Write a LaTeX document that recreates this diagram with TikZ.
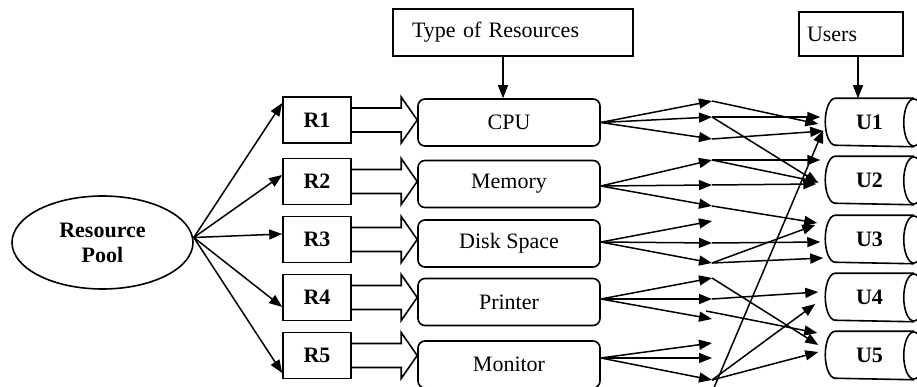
\documentclass[tikz,border=0pt]{standalone}
\usepackage{fontspec}
\setmainfont{Liberation Serif}
\usetikzlibrary{arrows.meta,shapes.geometric,calc}

% hollow block arrow from a resource box to its resource type box
\newcommand\blockarrow[2]{%
  \draw[blk] ($(#1.east)+(0,-12)$) -- ($(#2.west |- #1.east)+(-16,-12)$)
    -- ($(#2.west |- #1.east)+(-16,-23)$) -- (#2.west |- #1.east)
    -- ($(#2.west |- #1.east)+(-16,23)$) -- ($(#2.west |- #1.east)+(-16,12)$)
    -- ($(#1.east)+(0,12)$);}

% horizontal drum outline around a user node
\newcommand\drum[1]{%
  \draw[line width=1.6pt] (#1.north east) -- ($(#1.north west)+(10,0)$)
    arc[start angle=90,end angle=270,x radius=10pt,y radius=23.5pt]
    -- (#1.south east);
  \draw[line width=1.6pt] (#1.east) ellipse[x radius=10pt,y radius=23.5pt];}

\begin{document}
\begin{tikzpicture}[x=1pt,y=-1pt,line width=1.5pt,
  txt/.style={font=\fontsize{22}{25}\selectfont},
  bold/.style={font=\fontsize{22}{25}\selectfont\bfseries},
  tip/.style={-{Triangle[length=13pt,width=10pt]}},
  blk/.style={line width=1.6pt,line join=miter},
  pool/.style={draw,ellipse,line width=1.6pt,minimum width=181pt,minimum height=93pt,inner sep=0pt,align=center,bold},
  rbox/.style={draw,rectangle,line width=1.6pt,minimum width=68pt,minimum height=46pt,inner sep=0pt,bold},
  resbox/.style={draw,rectangle,rounded corners=7pt,line width=1.6pt,minimum width=182pt,minimum height=47pt,inner sep=0pt,txt},
  ubox/.style={rectangle,minimum width=87pt,minimum height=47pt,inner sep=0pt,bold},
  label/.style={draw,rectangle,line width=1.4pt,inner ysep=0pt,align=left,txt}]

\fill[white] (0,0) rectangle (917,387);
\useasboundingbox (0,0) rectangle (917,387);

% resource pool and resources
\node[pool] (pool) at (102.5,242.5) {Resource\\Pool};
\node[rbox] (R1) at (317,120) {R1};
\node[rbox] (R2) at (317,181.5) {R2};
\node[rbox] (R3) at (317,239.5) {R3};
\node[rbox] (R4) at (317,297.5) {R4};
\node[rbox] (R5) at (317,355.5) {R5};

% resource types
\node[resbox] (cpu) at (509,122.5) {CPU};
\node[resbox] (mem) at (509,184) {Memory};
\node[resbox] (dsk) at (509,243.5) {Disk Space};
\node[resbox] (prn) at (509,302) {Printer};
\node[resbox] (mon) at (509,364.5) {Monitor};

% users
\node[ubox] (U1) at (869.5,122.5) {U1};
\node[ubox] (U2) at (869.5,180.5) {U2};
\node[ubox] (U3) at (869.5,239.5) {U3};
\node[ubox] (U4) at (869.5,297.5) {U4};
\node[ubox] (U5) at (869.5,355.5) {U5};
\foreach \u in {U1,U2,U3,U4,U5} {\drum{\u}}

% captions
\node[label,minimum width=240pt,minimum height=47pt,text width=202pt,inner xsep=19pt] (tor) at (513,32.5) {Type of Resources};
\node[label,minimum width=104pt,minimum height=44pt,text width=88pt,inner xsep=8pt] (usr) at (851,34) {Users};
\draw[tip] ($(tor.south)+(-10,0)$) -- ($(cpu.north)+(-6,0)$);
\draw[tip] ($(usr.south)+(7,0)$) -- ($(U1.north)+(-11.5,0)$);

% pool to resources
\coordinate (src) at ($(pool.east)+(0,-5)$);
\draw[tip] (src) -- ($(R1.west)+(0,-17)$);
\draw[tip] (src) -- ($(R2.west)+(0,-6.5)$);
\draw[tip] (src) -- ($(R3.west)+(0,-5.5)$);
\draw[tip] (src) -- ($(R4.west)+(0,9.5)$);
\draw[tip] (src) -- ($(R5.west)+(0,17.5)$);

% resources to resource types
\blockarrow{R1}{cpu}
\blockarrow{R2}{mem}
\blockarrow{R3}{dsk}
\blockarrow{R4}{prn}
\blockarrow{R5}{mon}

% allocation points
\foreach \i/\y in {1/101,2/117,3/139,4/160,5/185,6/206,7/221,8/243,9/263,10/278,11/299,12/319,13/343,14/358,15/380}
  \coordinate (m\i) at (712,\y);
\coordinate (m12b) at (706,311);
\coordinate (low) at (713,390);

% resource types to allocation points
\foreach \i in {1,2,3} \draw[tip] (cpu.east) -- (m\i);
\foreach \i in {4,5,6} \draw[tip] ($(mem.east)+(0,2)$) -- (m\i);
\foreach \i in {7,8,9} \draw[tip] ($(dsk.east)+(0,-1.5)$) -- (m\i);
\foreach \i in {10,11,12} \draw[tip] ($(prn.east)+(0,-3)$) -- (m\i);
\foreach \i in {13,14,15} \draw[tip] ($(mon.east)+(0,-6.5)$) -- (m\i);

% allocation points to users
\draw[tip] (m1) -- ($(U1.west)+(-7,1.5)$);
\draw[tip] (m2) -- ($(U1.west)+(-5,-5.5)$);
\draw[tip] (m2) -- ($(U2.west)+(-7,2.5)$);
\draw[tip] (m3) -- ($(U1.west)+(-2,8.5)$);
\draw[tip] (m4) -- ($(U2.west)+(-5,-20.5)$);
\draw[tip] (m4) -- ($(U2.west)+(-7,1.5)$);
\draw[tip] (m5) -- ($(U2.west)+(-9,3.5)$);
\draw[tip] (m6) -- ($(U3.west)+(-8,-16.5)$);
\draw[tip] (m8) -- ($(U3.west)+(-5,2.5)$);
\draw[tip] (m9) -- ($(U3.west)+(-10,-14.5)$);
\draw[tip] (m9) -- ($(U3.west)+(-2,18.5)$);
\draw[tip] (m10) -- ($(U5.west)+(-7,-10.5)$);
\draw[tip] (m11) -- ($(U4.west)+(-7,-5.5)$);
\draw[tip] (m12b) -- ($(U5.west)+(-8,-22.5)$);
\draw[tip] (m15) -- ($(U4.west)+(-10,6.5)$);
\draw[tip] (m15) -- ($(U5.west)+(-7,-3.5)$);
\draw[tip] (low) -- ($(U1.west)+(-2,7.5)$);
\end{tikzpicture}
\end{document}
